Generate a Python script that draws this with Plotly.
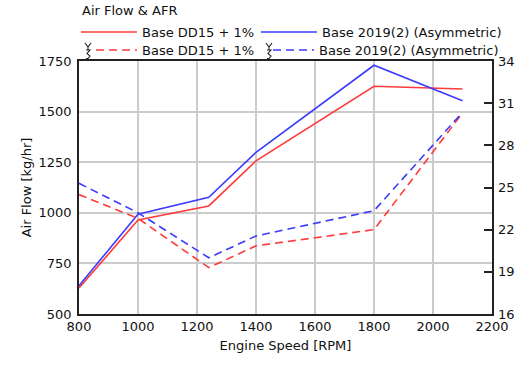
import plotly.graph_objects as go

rpm = [800, 1000, 1240, 1400, 1800, 2100]
airflow_dd15 = [628, 964, 1034, 1257, 1625, 1612]
airflow_2019 = [640, 993, 1077, 1299, 1729, 1554]
afr_dd15 = [24.5, 22.8, 19.3, 20.85, 22.0, 30.3]
afr_2019 = [25.3, 23.2, 20.0, 21.55, 23.35, 30.35]
name_dd15 = "Base DD15 + 1%"
name_2019 = "Base 2019(2) (Asymmetric)"

RED = "#ff3b3b"
BLUE = "#3b3bff"
FONT = "DejaVu Sans"
FS = 13

PL, PR, PT, PB = 79, 492, 61, 314  # plot area in page pixels
PW, PH = PR - PL, PB - PT


def px_x(p):
    return (p - PL) / PW


def px_y(p):
    return (PB - p) / PH


fig = go.Figure()
fig.add_trace(go.Scatter(x=rpm, y=airflow_dd15, name=name_dd15, mode="lines",
                         line=dict(color=RED, width=1.6), legend="legend"))
fig.add_trace(go.Scatter(x=rpm, y=airflow_2019, name=name_2019, mode="lines",
                         line=dict(color=BLUE, width=1.6), legend="legend2"))
fig.add_trace(go.Scatter(x=rpm, y=afr_dd15, name=name_dd15, mode="lines", yaxis="y2",
                         line=dict(color=RED, width=1.6, dash="8px,5px"), legend="legend3"))
fig.add_trace(go.Scatter(x=rpm, y=afr_2019, name=name_2019, mode="lines", yaxis="y2",
                         line=dict(color=BLUE, width=1.6, dash="8px,5px"), legend="legend4"))

legend_common = dict(orientation="h", xref="paper", yref="paper", xanchor="left",
                     yanchor="middle", font=dict(family=FONT, size=FS, color="#111"),
                     bgcolor="rgba(0,0,0,0)", tracegroupgap=0, itemclick=False)

fig.update_layout(
    width=531, height=370,
    margin=dict(l=PL, r=531 - PR, t=PT, b=370 - PB, autoexpand=False),
    paper_bgcolor="white", plot_bgcolor="white",
    font=dict(family=FONT, size=FS, color="#111"),
    title=dict(text="Air Flow & AFR", x=82/531, xref="container", xanchor="left",
               y=1-10/370, yref="container", yanchor="middle", pad=dict(l=0, r=0, t=0, b=0),
               font=dict(family=FONT, size=FS, color="#111")),
    xaxis=dict(range=[800, 2200], dtick=200, tick0=800, showgrid=True,
               gridcolor="#cccccc", gridwidth=1.5, showline=True, linecolor="#222",
               linewidth=1.5, mirror=True, ticks="", zeroline=False,
               tickfont=dict(family=FONT, size=FS),
               title=dict(text="Engine Speed [RPM]", standoff=8,
                          font=dict(family=FONT, size=FS))),
    yaxis=dict(range=[500, 1750], dtick=250, tick0=500, showgrid=True,
               gridcolor="#cccccc", gridwidth=1.5, showline=True, linecolor="#222",
               linewidth=1.5, mirror=True, ticks="", zeroline=False,
               tickfont=dict(family=FONT, size=FS), ticklabelstandoff=3,
               title=dict(text="Air Flow [kg/hr]", standoff=4,
                          font=dict(family=FONT, size=FS))),
    yaxis2=dict(range=[16, 34], dtick=3, tick0=16, overlaying="y", side="right",
                showgrid=False, zeroline=False, ticks="inside", ticklen=8,
                tickcolor="#222", tickwidth=1.5, showline=False, ticklabelstandoff=5,
                tickfont=dict(family=FONT, size=FS)),
    legend=dict(x=px_x(76), y=px_y(32), itemwidth=56, **legend_common),
    legend2=dict(x=px_x(256), y=px_y(32), itemwidth=56, **legend_common),
    legend3=dict(x=px_x(91), y=px_y(50), itemwidth=41, **legend_common),
    legend4=dict(x=px_x(268), y=px_y(50), itemwidth=41, **legend_common),
    showlegend=True,
)

# right-axis indicator glyph (Y over a squiggle) beside the dashed legend entries
glyph = [[(-3, 43), (0, 47), (3, 43)], [(0, 47), (0, 50)],
         [(-2, 50), (2, 50), (-1, 53.5), (2, 56), (0, 58.5), (-2, 58.5)],
         [(0, 58.5), (0, 61)]]
for cx in [88, 269]:
    path = " ".join(
        "M" + " L".join(f"{px_x(cx + dx):.5f},{px_y(py):.5f}" for dx, py in seg)
        for seg in glyph)
    fig.add_shape(type="path", path=path, xref="paper", yref="paper",
                  line=dict(color="#222", width=1.1))

fig.write_html("out.html", config={"displayModeBar": False},
               post_script="document.body.style.margin='0';")
